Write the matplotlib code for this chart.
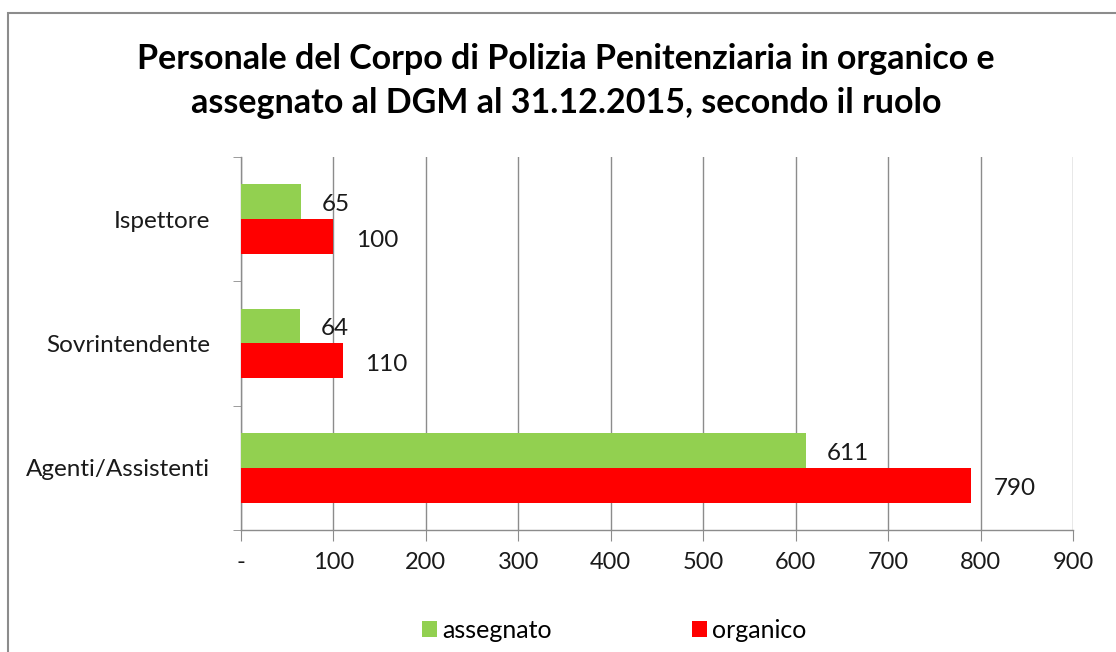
import matplotlib
matplotlib.use("Agg")
import matplotlib.pyplot as plt
import numpy as np

categories = ["Agenti/Assistenti", "Sovrintendente", "Ispettore"]
assegnato = [611, 64, 65]
organico = [790, 110, 100]
xticks = [0, 100, 200, 300, 400, 500, 600, 700, 800, 900]
xticklabels = ["-", "100", "200", "300", "400", "500", "600", "700", "800", "900"]
title = "Personale del Corpo di Polizia Penitenziaria in organico e\nassegnato al DGM al 31.12.2015, secondo il ruolo"

plt.rcParams['font.family'] = ['Lato', 'DejaVu Sans']
W, H = 1116, 652
fig = plt.figure(figsize=(W / 100, H / 100), dpi=100)

# outer frame
fig.patches.append(plt.Rectangle((8 / W, -0.1), 1.2, 1 - 13 / H + 0.1, transform=fig.transFigure,
                                 fill=False, edgecolor="#8c8c8c", linewidth=1.5))

ax = fig.add_axes([241 / W, 1 - 530 / H, (1073 - 241) / W, (530 - 157) / H])
y = np.arange(len(categories))
h = 0.28
ax.barh(y + h / 2, assegnato, height=h, color="#92d050", label="assegnato", zorder=3)
ax.barh(y - h / 2, organico, height=h, color="#ff0000", label="organico", zorder=3)

for yi, v in zip(y, assegnato):
    ax.annotate(str(v), (v, yi + h / 2), xytext=(15, -2), textcoords="offset points",
                ha="left", va="center", fontsize=17.5, color="#1a1a1a")
for yi, v in zip(y, organico):
    ax.annotate(str(v), (v, yi - h / 2), xytext=(16, -2.5), textcoords="offset points",
                ha="left", va="center", fontsize=17.5, color="#1a1a1a")

ax.set_xlim(0, 900)
ax.set_ylim(-0.5, 2.5)
ax.set_xticks(xticks)
ax.set_xticklabels(xticklabels, fontsize=17, color="#1a1a1a")
ax.set_yticks(y)
ax.set_yticklabels(categories, fontsize=17.5, color="#1a1a1a")
ax.set_yticks([-0.5, 0.5, 1.5, 2.5], minor=True)
ax.tick_params(axis="y", which="major", length=0, pad=22)
ax.tick_params(axis="y", which="minor", length=6, color="#8c8c8c", direction="out")
ax.tick_params(axis="x", length=8, color="#8c8c8c", direction="out", pad=8)
ax.grid(axis="x", color="#8c8c8c", linewidth=1, zorder=0)
for s in ["top", "right"]:
    ax.spines[s].set_visible(False)
for s in ["left", "bottom"]:
    ax.spines[s].set_color("#8c8c8c")
    ax.spines[s].set_linewidth(1)

fig.text(566 / W, 1 - 81 / H, title, ha="center", va="center", fontsize=24.5,
         fontweight="bold", linespacing=1.45, color="black")

handles, labels = ax.get_legend_handles_labels()
fig.legend(handles, labels, loc="center", bbox_to_anchor=(614 / W, 1 - 630 / H), ncol=2,
           frameon=False, fontsize=18, handlelength=0.6, handleheight=0.6,
           handletextpad=0.2, columnspacing=5.6)

fig.savefig("out.png", dpi=100)
